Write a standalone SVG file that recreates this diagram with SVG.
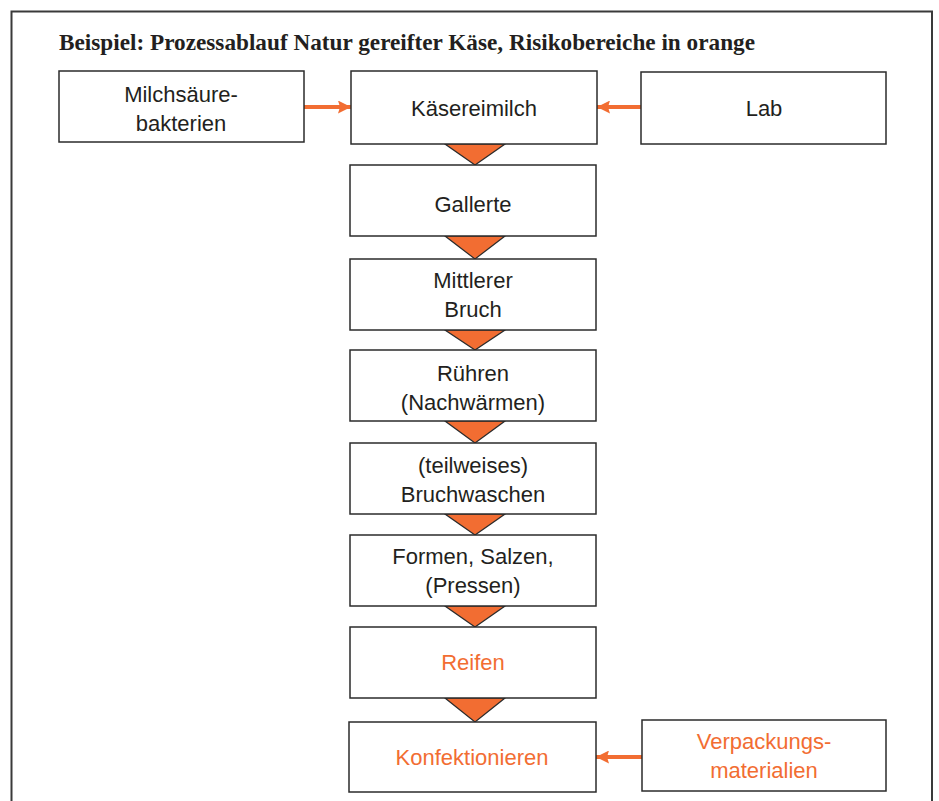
<svg xmlns="http://www.w3.org/2000/svg" width="939" height="801" viewBox="0 0 939 801">
<defs>
<style>
.box{fill:#fff;stroke:#2b2b2b;stroke-width:1.5}
.t{font-family:"Liberation Sans",Arial,sans-serif;font-size:22px;fill:#231f20;text-anchor:middle}
.o{fill:#f26d32}
.tri{fill:#f26d32;stroke:#2b2b2b;stroke-width:1.2}
.arr{stroke:#f26d32;stroke-width:4;fill:none}
</style>
<marker id="ah" viewBox="0 0 13 13" refX="13" refY="6.5" markerWidth="13" markerHeight="13" markerUnits="userSpaceOnUse" orient="auto">
<path d="M0,0 L13,6.5 L0,13 L2,6.5 z" fill="#f26d32"/>
</marker>
</defs>
<rect x="0" y="0" width="939" height="801" fill="#fff"/>
<path d="M11.5,805 V11.5 H932 V805" fill="none" stroke="#3a3a3a" stroke-width="2"/>
<text x="59" y="50" font-family="Liberation Serif,'Times New Roman',serif" font-weight="bold" font-size="23" fill="#231f20" textLength="696" lengthAdjust="spacingAndGlyphs">Beispiel: Prozessablauf Natur gereifter Käse, Risikobereiche in orange</text>
<g id="connectors">
<line class="arr" x1="304" y1="107" x2="351" y2="107" marker-end="url(#ah)"/>
<line class="arr" x1="641" y1="107" x2="597" y2="107" marker-end="url(#ah)"/>
<line class="arr" x1="642" y1="757" x2="596" y2="757" marker-end="url(#ah)"/>
<path class="tri" d="M445,144 L505,144 L475,165 z"/>
<path class="tri" d="M445,236 L505,236 L475,259 z"/>
<path class="tri" d="M445,330 L505,330 L475,350 z"/>
<path class="tri" d="M445,421 L505,421 L475,443 z"/>
<path class="tri" d="M445,514 L505,514 L475,535 z"/>
<path class="tri" d="M445,606 L505,606 L475,627 z"/>
<path class="tri" d="M445,698 L505,698 L475,722 z"/>
</g>
<g id="n-milchsaeure"><rect class="box" x="59" y="71" width="245" height="71"/><text class="t" x="181" y="102">Milchsäure-</text><text class="t" x="181" y="131">bakterien</text></g>
<g id="n-kaesereimilch"><rect class="box" x="351" y="71" width="246" height="73"/><text class="t" x="474" y="116">Käsereimilch</text></g>
<g id="n-lab"><rect class="box" x="641" y="72" width="245" height="72"/><text class="t" x="764" y="116">Lab</text></g>
<g id="n-gallerte"><rect class="box" x="350" y="165" width="246" height="71"/><text class="t" x="473" y="212">Gallerte</text></g>
<g id="n-bruch"><rect class="box" x="350" y="259" width="246" height="71"/><text class="t" x="473" y="288">Mittlerer</text><text class="t" x="473" y="317">Bruch</text></g>
<g id="n-ruehren"><rect class="box" x="350" y="350" width="246" height="71"/><text class="t" x="473" y="381">Rühren</text><text class="t" x="473" y="410">(Nachwärmen)</text></g>
<g id="n-bruchwaschen"><rect class="box" x="350" y="443" width="246" height="71"/><text class="t" x="473" y="473">(teilweises)</text><text class="t" x="473" y="502">Bruchwaschen</text></g>
<g id="n-formen"><rect class="box" x="350" y="535" width="246" height="71"/><text class="t" x="473" y="564">Formen, Salzen,</text><text class="t" x="473" y="593">(Pressen)</text></g>
<g id="n-reifen"><rect class="box" x="350" y="627" width="246" height="71"/><text class="t o" x="473" y="670">Reifen</text></g>
<g id="n-konfektionieren"><rect class="box" x="349" y="722" width="247" height="70"/><text class="t o" x="472" y="765">Konfektionieren</text></g>
<g id="n-verpackung"><rect class="box" x="642" y="720" width="244" height="71"/><text class="t o" x="764" y="749">Verpackungs-</text><text class="t o" x="764" y="778">materialien</text></g>
</svg>
